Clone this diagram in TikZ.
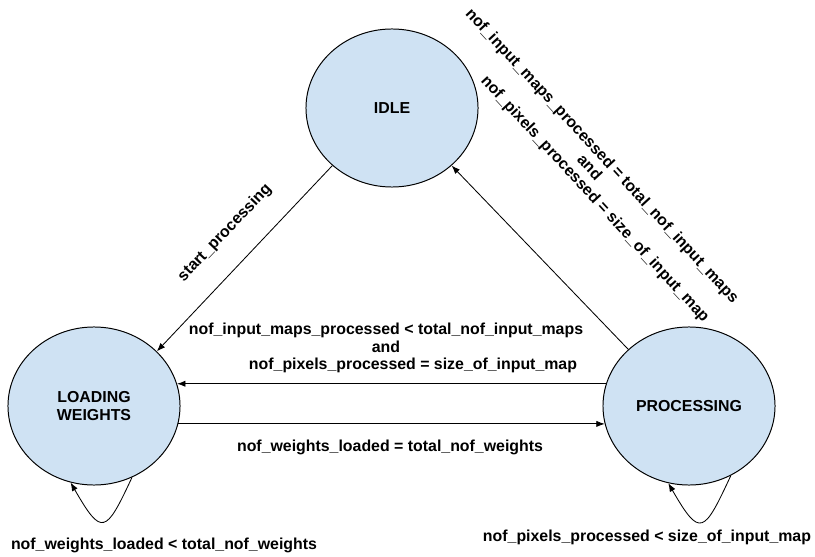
\documentclass[tikz,border=0pt]{standalone}
\usepackage{fontspec}
\setmainfont{Liberation Sans}
\usepackage{xcolor}
\usepackage{tikz}
\usetikzlibrary{shapes.geometric, arrows.meta}
\definecolor{statefill}{HTML}{CFE2F3}

\begin{document}
\begin{tikzpicture}
[x=0.025cm, y=-0.025cm,
state/.style={ellipse, draw=black, fill=statefill, line width=.7pt, minimum width=4.3cm, minimum height=3.95cm, inner sep=0pt, align=center, font=\fontsize{11.3}{13}\selectfont\bfseries},
cond/.style={font=\fontsize{11.3}{12.2}\selectfont\bfseries, align=center, inner sep=0pt},
trans/.style={draw=black, line width=.6pt, -{Latex[length=6pt, width=4.5pt]}},
]
\useasboundingbox (0,0) rectangle (815,557);

\node[state] (idle) at (392,108) {IDLE};
\node[state] (load) at (94,406) {LOADING\\WEIGHTS};
\node[state] (proc) at (689,406) {PROCESSING};

\draw[trans] (idle.224) -- (load.41);
\draw[trans] (proc.137) -- (idle.316);
\draw[trans] (proc.165) -- (load.15);
\draw[trans] (load.-12) -- (proc.192);
\draw[trans] (load.298) to[out=-115, in=-60, looseness=2.6] (load.253);
\draw[trans] (proc.301) to[out=-115, in=-60, looseness=2.6] (proc.255);

\node[cond, rotate=46.5] (start) at (225,233) {start\_processing};
\node[cond, rotate=-47.3] (done) at (589,168) {nof\_input\_maps\_processed = total\_nof\_input\_maps\\and\\\hspace*{1.35cm}nof\_pixels\_processed = size\_of\_input\_map};
\node[cond] (back) at (386,348) {nof\_input\_maps\_processed < total\_nof\_input\_maps\\and\\\hspace*{1.35cm}nof\_pixels\_processed = size\_of\_input\_map};
\node[cond] (weq) at (390,447) {nof\_weights\_loaded = total\_nof\_weights};
\node[cond] (wlo) at (164,545) {nof\_weights\_loaded < total\_nof\_weights};
\node[cond] (plo) at (647,537) {nof\_pixels\_processed < size\_of\_input\_map};
\end{tikzpicture}
\end{document}
